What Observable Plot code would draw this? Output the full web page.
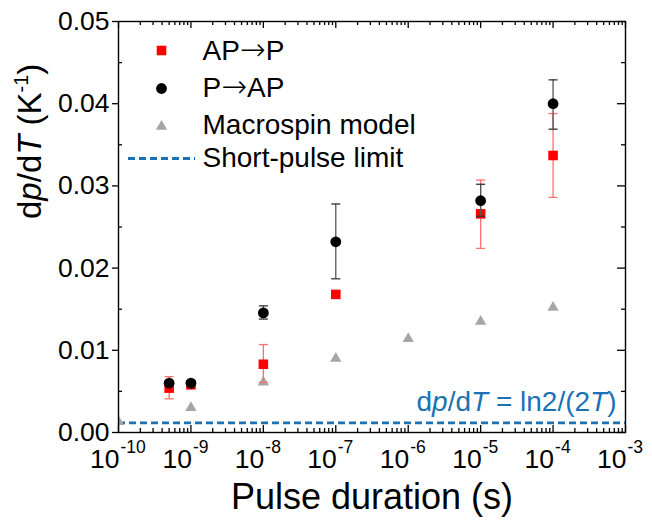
<!DOCTYPE html>
<html><head><meta charset="utf-8">
<script src="https://cdn.jsdelivr.net/npm/d3@7"></script>
<script src="https://cdn.jsdelivr.net/npm/@observablehq/plot@0.6"></script>
<style>body{margin:0;background:#fff;} #chart{width:652px;height:521px;}</style>
</head><body><div id="chart"></div>
<script>
// ---- data ----
const apPulse = [5e-10, 1e-9, 1e-8, 1e-7, 1e-5, 1e-4];
const apValue = [0.0054, 0.0058, 0.0083, 0.0168, 0.0266, 0.0337];
const apLow   = [0.0041, null, 0.0061, null, 0.0224, 0.0286];
const apHigh  = [0.0068, null, 0.0107, null, 0.0307, 0.0388];

const papPulse = [5e-10, 1e-9, 1e-8, 1e-7, 1e-5, 1e-4];
const papValue = [0.0060, 0.0060, 0.01455, 0.0232, 0.0282, 0.0400];
const papLow   = [null, null, 0.0138, 0.0187, 0.0263, 0.0369];
const papHigh  = [null, null, 0.0154, 0.0278, 0.0302, 0.0429];

const macroPulse = [1e-10, 1e-9, 1e-8, 1e-7, 1e-6, 1e-5, 1e-4];
const macroValue = [0.0013, 0.0030, 0.0061, 0.0090, 0.0114, 0.0135, 0.0152];

const shortPulseLimit = [0.00116];

const xDecades = [1e-10, 1e-9, 1e-8, 1e-7, 1e-6, 1e-5, 1e-4, 1e-3];
const xTickBase = "10";
const xTickExponents = ["-10", "-9", "-8", "-7", "-6", "-5", "-4", "-3"];
const yMajor = [0, 0.01, 0.02, 0.03, 0.04, 0.05];
const yMinor = [0.005, 0.015, 0.025, 0.035, 0.045];
const legendLabels = ["AP\u2192P", "P\u2192AP", "Macrospin model", "Short-pulse limit"];
const xTitle = "Pulse duration (s)";
const yTitle = "dp/dT (K-1)";
const annotation = "dp/dT = ln2/(2T)";

// ---- layout ----
const W = 652, H = 521, mL = 118, mR = 27, mT = 21, mB = 89;
const innerW = W - mL - mR, innerH = H - mT - mB;
const FONT = "Liberation Sans, Arial, sans-serif";
const BLUE = "#1a72b5";
const minorX = [];
for (let k = -10; k < -3; k++) for (let m = 2; m < 10; m++) minorX.push(m * Math.pow(10, k));

const rows = (xs, ys, lo, hi) => xs.map((x, i) => ({x, y: ys[i], lo: lo ? lo[i] : null, hi: hi ? hi[i] : null}));
const ap = rows(apPulse, apValue, apLow, apHigh);
const pap = rows(papPulse, papValue, papLow, papHigh);
const macro = rows(macroPulse, macroValue);
const apErr = ap.filter(d => d.lo != null);
const papErr = pap.filter(d => d.lo != null);

const hLine = {draw(ctx, size) { const r = Math.sqrt(size / Math.PI); ctx.moveTo(-r, 0); ctx.lineTo(r, 0); }};

const legendY = [30, 67, 104, 137];
const legendText = legendLabels.map((label, i) =>
  Plot.text([label], {frameAnchor: "top-left", dx: 84, dy: legendY[i], text: d => d, textAnchor: "start", lineAnchor: "middle", fontSize: 28, fill: "black"}));

const TW = 1.3;
const chart = Plot.plot({
  width: W, height: H,
  marginLeft: mL, marginRight: mR, marginTop: mT, marginBottom: mB,
  style: {fontFamily: FONT, background: "white", color: "black"},
  x: {type: "log", domain: [1e-10, 1e-3], axis: null},
  y: {domain: [0, 0.05], axis: null},
  marks: [
    // short-pulse limit
    Plot.ruleY(shortPulseLimit, {stroke: BLUE, strokeWidth: 2.8, strokeDasharray: "7,4"}),
    // ticks: bottom (inward)
    Plot.tickX(xDecades, {x: d => d, insetTop: innerH - 7, stroke: "black", strokeWidth: TW}),
    Plot.tickX(minorX, {x: d => d, insetTop: innerH - 4, stroke: "black", strokeWidth: TW}),
    // top (inward)
    Plot.tickX(xDecades, {x: d => d, insetBottom: innerH - 7, stroke: "black", strokeWidth: TW}),
    Plot.tickX(minorX, {x: d => d, insetBottom: innerH - 4, stroke: "black", strokeWidth: TW}),
    // right (inward)
    Plot.tickY(yMajor, {y: d => d, insetLeft: innerW - 8, stroke: "black", strokeWidth: TW}),
    Plot.tickY(yMinor, {y: d => d, insetLeft: innerW - 4, stroke: "black", strokeWidth: TW}),
    // left minor (inward)
    Plot.tickY(yMinor, {y: d => d, insetRight: innerW - 4, stroke: "black", strokeWidth: TW}),
    // left major (outward) with labels
    Plot.axisY({ticks: yMajor, tickSize: 6, tickPadding: 3, tickFormat: d3.format(".2f"), fontSize: 26.5, label: null, strokeWidth: TW}),
    // x tick labels
    Plot.text(xDecades, {x: d => d, text: () => xTickBase, frameAnchor: "bottom", textAnchor: "end", lineAnchor: "middle", dy: 27, dx: 1, fontSize: 26.5, fill: "black"}),
    Plot.text(xDecades, {x: d => d, text: (d, i) => xTickExponents[i], frameAnchor: "bottom", textAnchor: "start", lineAnchor: "middle", dy: 15, dx: 2, fontSize: 17.5, fill: "black"}),
    // macrospin model
    Plot.dot(macro, {x: "x", y: "y", symbol: "triangle", r: 4.2, fill: "#a6a6a6", clip: true}),
    // AP->P
    Plot.ruleX(apErr, {x: "x", y1: "lo", y2: "hi", stroke: "#ff7070", strokeWidth: 1.3}),
    Plot.dot(apErr, {x: "x", y: "lo", symbol: hLine, r: 4.5, fill: "none", stroke: "#ff7070", strokeWidth: 1.3}),
    Plot.dot(apErr, {x: "x", y: "hi", symbol: hLine, r: 4.5, fill: "none", stroke: "#ff7070", strokeWidth: 1.3}),
    Plot.dot(ap, {x: "x", y: "y", symbol: "square", r: 5.4, fill: "#ff0000"}),
    // P->AP
    Plot.ruleX(papErr, {x: "x", y1: "lo", y2: "hi", stroke: "#555555", strokeWidth: 1.3}),
    Plot.dot(papErr, {x: "x", y: "lo", symbol: hLine, r: 4.5, fill: "none", stroke: "#333333", strokeWidth: 1.3}),
    Plot.dot(papErr, {x: "x", y: "hi", symbol: hLine, r: 4.5, fill: "none", stroke: "#333333", strokeWidth: 1.3}),
    Plot.dot(pap, {x: "x", y: "y", r: 5.4, fill: "black"}),
    // frame
    Plot.frame({stroke: "black", strokeWidth: 1.4}),
    // legend
    Plot.dot([0], {frameAnchor: "top-left", dx: 43, dy: 29, symbol: "square", r: 5.4, fill: "#ff0000"}),
    Plot.dot([0], {frameAnchor: "top-left", dx: 43, dy: 67, r: 5.4, fill: "black"}),
    Plot.dot([0], {frameAnchor: "top-left", dx: 43, dy: 105, symbol: "triangle", r: 4.2, fill: "#a6a6a6"}),
    Plot.dot([0], {frameAnchor: "top-left", dx: 43, dy: 137, symbol: hLine, r: 33.5, fill: "none", stroke: BLUE, strokeWidth: 2.8, strokeDasharray: "7,4"}),
    ...legendText,
    // annotation
    Plot.text([annotation], {frameAnchor: "bottom-right", dx: -9, dy: -22, text: d => d, textAnchor: "end", lineAnchor: "bottom", fontSize: 28, fill: BLUE}),
    // axis titles
    Plot.text([xTitle], {frameAnchor: "bottom", dy: 65, text: d => d, lineAnchor: "middle", fontSize: 36, fill: "black"}),
    Plot.text([yTitle], {frameAnchor: "left", dx: -88, dy: -8, rotate: -90, text: d => d, lineAnchor: "middle", fontSize: 33, fill: "black"})
  ]
});
document.getElementById("chart").appendChild(chart);

// rich text (italic variables, superscripts, wide arrow) inside the generated SVG text elements
function richify(content, parts, supShift) {
  chart.querySelectorAll("text").forEach(el => {
    if (el.textContent !== content) return;
    el.textContent = "";
    let shifted = false;
    for (const [s, opt] of parts) {
      const t = document.createElementNS("http://www.w3.org/2000/svg", "tspan");
      t.textContent = s;
      if (opt === "i") t.setAttribute("font-style", "italic");
      if (opt === "arrow") { t.setAttribute("font-family", "DejaVu Sans"); t.setAttribute("font-weight", "200"); t.setAttribute("font-size", "1.1em"); }
      if (opt === "sup") { t.setAttribute("font-size", "0.6em"); t.setAttribute("dy", -supShift); shifted = true; }
      else if (shifted) { t.setAttribute("dy", supShift); shifted = false; }
      el.appendChild(t);
    }
  });
}
richify(yTitle, [["d"], ["p", "i"], ["/d"], ["T", "i"], [" (K"], ["-1", "sup"], [")"]], 13);
richify(annotation, [["d"], ["p", "i"], ["/d"], ["T", "i"], [" = ln2/(2"], ["T", "i"], [")"]], 0);
richify(legendLabels[0], [["AP"], ["\u2192", "arrow"], ["P"]], 0);
richify(legendLabels[1], [["P"], ["\u2192", "arrow"], ["AP"]], 0);
</script></body></html>
